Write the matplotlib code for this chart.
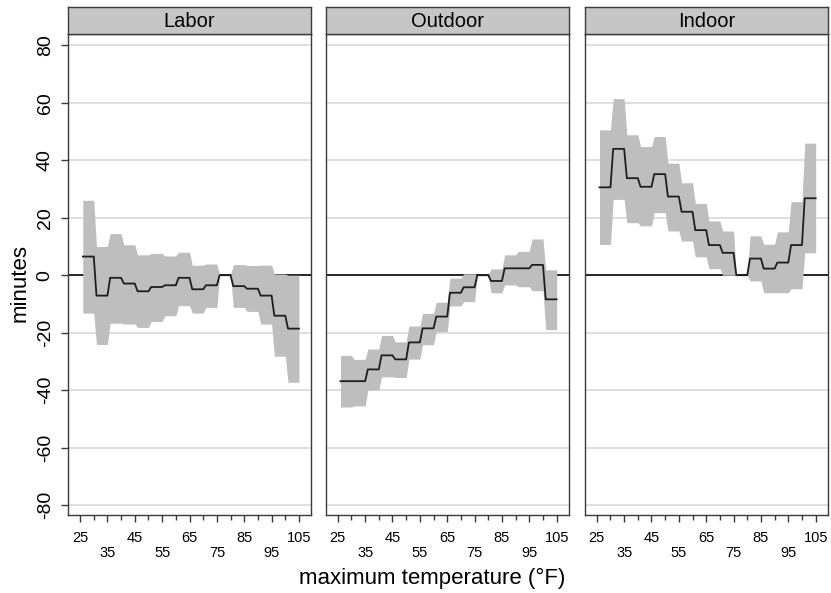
import numpy as np
import matplotlib
matplotlib.use("Agg")
import matplotlib.pyplot as plt
from matplotlib.transforms import ScaledTranslation

plt.rcParams['font.family'] = ['Liberation Sans', 'DejaVu Sans']

# Temperature bins (°F): each bin covers [edge_i, edge_{i+1})
bin_edges = [26, 31, 36, 41, 46, 51, 56, 61, 66, 71, 76, 81, 86, 91, 96, 101, 106]

panel_names = ["Labor", "Outdoor", "Indoor"]

# Estimated change in minutes per bin (76-80 °F is the reference bin)
labor_est = [6.5, -7.1, -0.9, -2.9, -5.6, -4.1, -3.5, -0.9, -4.9, -3.5, 0.0, -3.8, -4.7, -7.1, -14.1, -18.6]
labor_lo = [-13.2, -24.1, -16.7, -17.0, -18.2, -16.1, -14.1, -10.6, -13.2, -11.2, 0.0, -11.2, -12.6, -17.0, -28.2, -37.3]
labor_hi = [26.1, 10.0, 14.5, 10.6, 7.1, 7.6, 6.7, 8.0, 3.5, 3.9, 0.0, 3.7, 3.4, 3.5, 0.4, 0.0]

outdoor_est = [-36.9, -36.9, -32.8, -27.9, -29.3, -23.4, -18.5, -14.4, -6.1, -4.2, 0.0, -2.0, 2.4, 2.4, 3.6, -8.4]
outdoor_lo = [-45.9, -45.5, -40.0, -35.4, -35.6, -29.2, -24.2, -19.7, -10.7, -9.2, 0.0, -6.1, -3.4, -4.0, -5.4, -18.9]
outdoor_hi = [-27.9, -29.3, -25.7, -21.0, -23.2, -17.7, -13.3, -9.4, -1.0, 0.5, 0.0, 2.2, 7.1, 8.3, 12.6, 1.9]

indoor_est = [30.6, 44.0, 33.8, 30.8, 35.2, 27.4, 22.1, 15.7, 10.5, 7.8, 0.0, 5.8, 2.3, 4.4, 10.5, 26.8]
indoor_lo = [10.7, 26.4, 18.3, 17.2, 21.8, 15.4, 11.9, 6.4, 2.3, 0.0, 0.0, -2.0, -6.1, -6.1, -4.7, 7.8]
indoor_hi = [50.6, 61.5, 48.9, 44.8, 48.3, 39.0, 32.2, 25.0, 18.9, 15.4, 0.0, 13.7, 10.8, 15.1, 25.6, 46.0]

series = [
    (labor_est, labor_lo, labor_hi),
    (outdoor_est, outdoor_lo, outdoor_hi),
    (indoor_est, indoor_lo, indoor_hi),
]

y_ticks = [-80, -60, -40, -20, 0, 20, 40, 60, 80]
y_tick_labels = ["-80", "-60", "-40", "-20", "0", "20", "40", "60", "80"]
x_major = [25, 35, 45, 55, 65, 75, 85, 95, 105]
x_minor = [30, 40, 50, 60, 70, 80, 90, 100]
x_tick_labels = ["25", "35", "45", "55", "65", "75", "85", "95", "105"]

BAND = "#bebebe"
STRIP = "#c6c6c6"
GRID = "#dcdcdc"
FRAME = "#3a3a3a"

W, H = 831, 593
fig = plt.figure(figsize=(W / 100, H / 100), dpi=100)

panel_left = [68.3, 326.0, 585.0]
panel_w = 242.7
ax_bottom, ax_top = 515.0, 34.0
strip_top = 6.5

# per-degree temperature grid spanning all bins
deg = np.arange(bin_edges[0], bin_edges[-1])
widths = np.diff(bin_edges)

# alternate x labels sit one row lower
row_shift = ScaledTranslation(0, -15 / 100, fig.dpi_scale_trans)

for i, (name, (est, lo, hi)) in enumerate(zip(panel_names, series)):
    ax = fig.add_axes([panel_left[i] / W, (H - ax_bottom) / H,
                       panel_w / W, (ax_bottom - ax_top) / H])
    ax.set_xlim(20.7, 109.4)
    ax.set_ylim(-83.5, 84.0)

    for yv in y_ticks:
        if yv != 0:
            ax.axhline(yv, color=GRID, lw=1.3, zorder=0.5)
    ax.axhline(0, color="black", lw=1.2, zorder=1)

    e = np.repeat(est, widths)
    l = np.repeat(lo, widths)
    h = np.repeat(hi, widths)
    ax.fill_between(deg, l, h, color=BAND, lw=0, zorder=2)
    ax.plot(deg, e, color="#1e1e1e", lw=1.3, zorder=3)

    ax.set_xticks(x_major)
    ax.set_xticklabels(x_tick_labels, fontsize=10.5)
    ax.set_xticks(x_minor, minor=True)
    ax.tick_params(axis="x", which="major", direction="out", length=5, width=1,
                   color=FRAME, pad=14.2)
    ax.tick_params(axis="x", which="minor", direction="out", length=3.4, width=1,
                   color=FRAME)
    for k, t in enumerate(ax.get_xticklabels()):
        t.set_verticalalignment("baseline")
        if k % 2 == 1:
            t.set_transform(t.get_transform() + row_shift)

    if i == 0:
        ax.set_yticks(y_ticks)
        ax.set_yticklabels(y_tick_labels, fontsize=14, rotation=90, va="center")
        ax.tick_params(axis="y", direction="out", length=5, width=1,
                       color=FRAME, pad=5.5)
        ax.set_ylabel("minutes", fontsize=16)
        ax.yaxis.set_label_coords((31 - panel_left[0]) / panel_w,
                                  (ax_bottom - 283) / (ax_bottom - ax_top))
    else:
        ax.set_yticks([])

    for s in ax.spines.values():
        s.set_color(FRAME)
        s.set_linewidth(1.0)

    # facet header strip
    sax = fig.add_axes([panel_left[i] / W, (H - ax_top) / H,
                        panel_w / W, (ax_top - strip_top) / H])
    sax.set_facecolor(STRIP)
    sax.set_xticks([])
    sax.set_yticks([])
    for s in sax.spines.values():
        s.set_color(FRAME)
        s.set_linewidth(1.0)
    sax.text(0.5, 0.45, name, ha="center", va="center", fontsize=14.5,
             transform=sax.transAxes)

fig.text(432 / W, 1 - 578 / H, "maximum temperature (°F)", ha="center",
         va="center", fontsize=16)

fig.savefig("out.png", dpi=100)
